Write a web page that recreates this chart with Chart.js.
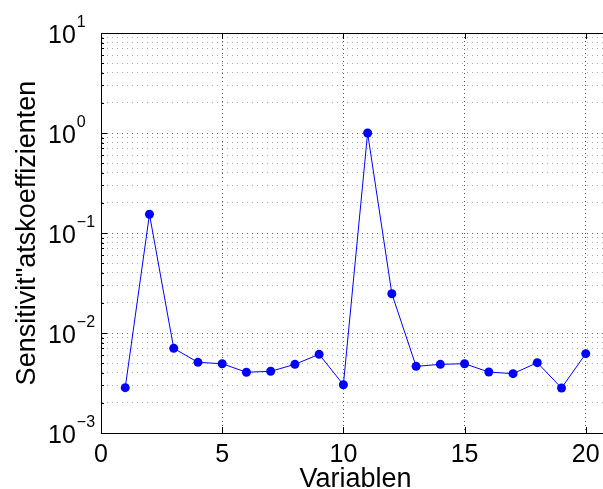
<!DOCTYPE html>
<html>
<head>
<meta charset="utf-8">
<script src="https://cdn.jsdelivr.net/npm/chart.js@4.4.1/dist/chart.umd.min.js"></script>
<style>
    html, body { margin: 0; padding: 0; background: #ffffff; overflow: hidden; }
    #wrap { width: 603px; height: 489px; overflow: hidden; }
    canvas { display: block; }
</style>
</head>
<body>
<div id="wrap"><canvas id="sensChart" width="620" height="489"></canvas></div>
<script>
const variables = [1, 2, 3, 4, 5, 6, 7, 8, 9, 10, 11, 12, 13, 14, 15, 16, 17, 18, 19, 20];
const coefficients = [0.00284, 0.154, 0.00703, 0.00509, 0.00493, 0.00405, 0.00414, 0.00486, 0.00612, 0.00304,
                      1.0, 0.0247, 0.00464, 0.00486, 0.00493, 0.00407, 0.00392, 0.00505, 0.00282, 0.00621];
const xTicks = [0, 5, 10, 15, 20];
const yDecades = [-3, -2, -1, 0, 1];
const xTitle = "Variablen";
const yTitle = "Sensitivit\"atskoeffizienten";

const FONT = "'Liberation Sans', Arial, Helvetica, sans-serif";

function buildLogTicks() {
    const ticks = [];
    for (let i = 0; i < yDecades.length - 1; i++) {
        const base = Math.pow(10, yDecades[i]);
        for (let s = 1; s <= 9; s++) {
            ticks.push({ value: s * base, major: s === 1 });
        }
    }
    ticks.push({ value: Math.pow(10, yDecades[yDecades.length - 1]), major: true });
    return ticks;
}

const matlabAxes = {
    id: "matlabAxes",
    afterDraw(chart) {
        const ctx = chart.ctx;
        const area = chart.chartArea;
        const xs = chart.scales.x;
        const ys = chart.scales.y;

        ctx.save();
        ctx.strokeStyle = "#000000";
        ctx.lineWidth = 1;

        // box top and right
        ctx.beginPath();
        ctx.moveTo(area.left, Math.round(area.top) + 0.5);
        ctx.lineTo(area.right, Math.round(area.top) + 0.5);
        ctx.moveTo(Math.round(area.right) + 0.5, area.top);
        ctx.lineTo(Math.round(area.right) + 0.5, area.bottom);
        ctx.stroke();

        // inward ticks on y
        ctx.beginPath();
        ys.ticks.forEach(t => {
            const y = Math.round(ys.getPixelForValue(t.value)) + 0.5;
            const len = t.major ? 6 : 3;
            ctx.moveTo(area.left, y);
            ctx.lineTo(area.left + len, y);
            ctx.moveTo(area.right, y);
            ctx.lineTo(area.right - len, y);
        });
        // inward ticks on x
        xTicks.forEach(v => {
            const x = Math.round(xs.getPixelForValue(v)) + 0.5;
            ctx.moveTo(x, area.bottom);
            ctx.lineTo(x, area.bottom - 6);
            ctx.moveTo(x, area.top);
            ctx.lineTo(x, area.top + 6);
        });
        ctx.stroke();

        ctx.fillStyle = "#000000";

        // y tick labels 10^n
        yDecades.forEach(e => {
            const y = ys.getPixelForValue(Math.pow(10, e));
            ctx.font = "25px " + FONT;
            ctx.textAlign = "left";
            ctx.textBaseline = "alphabetic";
            ctx.fillText("10", 48, y + 10);
            const w = ctx.measureText("10").width;
            ctx.font = "16px " + FONT;
            const exp = e < 0 ? "\u2212" + Math.abs(e) : String(e);
            ctx.fillText(exp, 48 + w + 1, y - 6);
        });

        // x tick labels
        ctx.font = "25px " + FONT;
        ctx.textAlign = "center";
        xTicks.forEach(v => {
            ctx.fillText(String(v), xs.getPixelForValue(v), 462);
        });

        // axis titles
        ctx.font = "27px " + FONT;
        ctx.fillText(xTitle, (area.left + area.right) / 2, 487);

        ctx.translate(35, (area.top + area.bottom) / 2);
        ctx.rotate(-Math.PI / 2);
        ctx.fillText(yTitle, 0, 0);
        ctx.restore();
    }
};

function createChart() {
    const ctx = document.getElementById("sensChart");
    const points = variables.map((v, i) => ({ x: v, y: coefficients[i] }));

    new Chart(ctx, {
        type: "line",
        data: {
            datasets: [{
                data: points,
                borderColor: "#0000ff",
                backgroundColor: "#0000ff",
                borderWidth: 1,
                pointRadius: 4.5,
                pointBorderWidth: 0,
                pointBackgroundColor: "#0000ff",
                tension: 0,
                fill: false
            }]
        },
        options: {
            responsive: false,
            animation: false,
            devicePixelRatio: 1,
            layout: { padding: { top: 33, right: 10, left: 0, bottom: 0 } },
            plugins: {
                legend: { display: false },
                tooltip: { enabled: false }
            },
            scales: {
                x: {
                    type: "linear",
                    min: 0,
                    max: 21,
                    afterBuildTicks: scale => { scale.ticks = xTicks.map(v => ({ value: v })); },
                    afterFit: scale => { scale.height = 56; },
                    ticks: { display: false },
                    grid: { color: "#555555", lineWidth: 1, drawTicks: false },
                    border: { display: true, color: "#000000", width: 1, dash: [1, 3] }
                },
                y: {
                    type: "logarithmic",
                    min: 0.001,
                    max: 10,
                    afterBuildTicks: scale => { scale.ticks = buildLogTicks(); },
                    afterFit: scale => { scale.width = 101; },
                    ticks: { display: false },
                    grid: {
                        color: c => (c.tick && c.tick.major) ? "#666666" : "#aaaaaa",
                        lineWidth: 1,
                        drawTicks: false
                    },
                    border: { display: true, color: "#000000", width: 1, dash: [1, 4] }
                }
            }
        },
        plugins: [matlabAxes]
    });
}

createChart();
</script>
</body>
</html>
